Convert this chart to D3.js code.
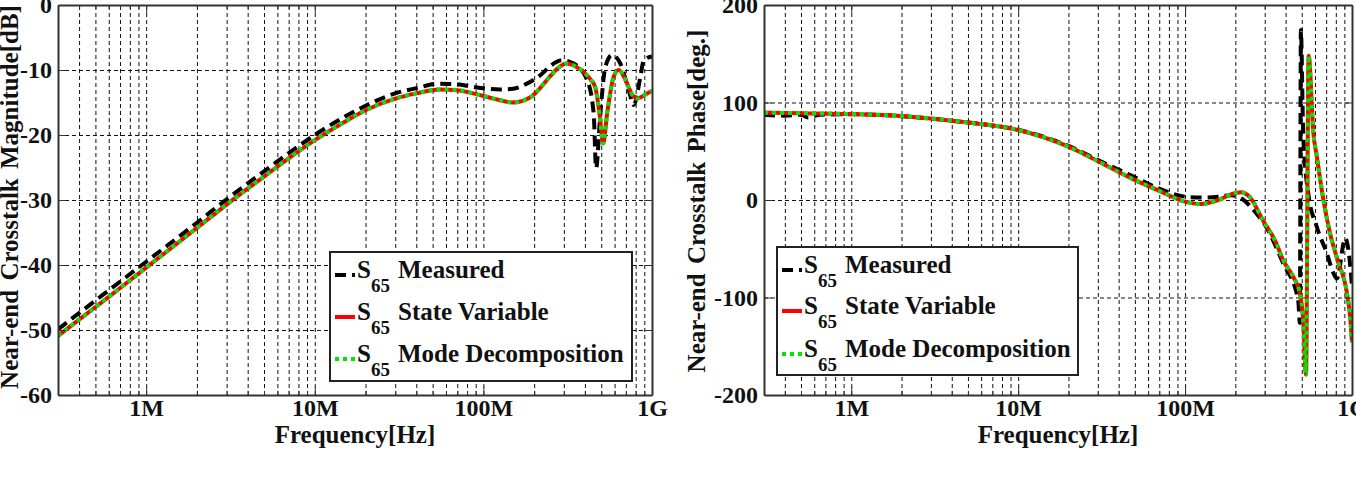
<!DOCTYPE html>
<html><head><meta charset="utf-8">
<script src="https://cdn.jsdelivr.net/npm/d3@7"></script>
<style>html,body{margin:0;padding:0;background:#fff;overflow:hidden}svg{display:block}</style>
</head><body><svg id="c" width="1356" height="487"></svg>
<script>
// ---------------- data ----------------
const freqDomain = [3e5, 1e9];
const xTickValues = [1e6, 1e7, 1e8, 1e9];
const xTickLabels = ["1M", "10M", "100M", "1G"];
const xMinorValues = [4e5,5e5,6e5,7e5,8e5,9e5,
  2e6,3e6,4e6,5e6,6e6,7e6,8e6,9e6,
  2e7,3e7,4e7,5e7,6e7,7e7,8e7,9e7,
  2e8,3e8,4e8,5e8,6e8,7e8,8e8,9e8];
const magTicks = [-60, -50, -40, -30, -20, -10, 0];
const magTickLabels = ["-60", "-50", "-40", "-30", "-20", "-10", "0"];
const phaseTicks = [-200, -100, 0, 100, 200];
const phaseTickLabels = ["-200", "-100", "0", "100", "200"];
const seriesNames = ["Measured", "State Variable", "Mode Decomposition"];
const seriesSymbol = "S";
const seriesIndex = "65";
const magTitle = "Near-end Crosstalk Magnitude[dB]";
const phaseTitle = "Near-end Crosstalk Phase[deg.]";
const xTitle = "Frequency[Hz]";

// magnitude, measured
const magFreqMeasured = [3e5,4e5,6e5,1e6,2e6,3e6,5e6,7e6,1e7,1.5e7,2e7,3e7,4e7,5.5e7,7e7,8.7e7,1.26e8,1.5e8,1.81e8,2.2e8,2.49e8,2.92e8,3.43e8,4.12e8,4.51e8,4.66e8,4.94e8,5.29e8,5.8e8,6.49e8,7.28e8,7.8e8,8.54e8,8.94e8,1e9];
const magMeasured = [-49.9,-47.4,-43.9,-39.5,-33.5,-29.9,-25.6,-22.8,-20.0,-17.2,-15.5,-13.6,-12.8,-12.1,-12.2,-12.6,-13.0,-12.9,-12.1,-10.7,-9.4,-8.5,-9.0,-11.5,-16.7,-25.1,-16.7,-9.5,-7.7,-9.0,-13.1,-15.4,-11.0,-8.5,-7.9];
// magnitude, models
const magFreqModel = [3e5,4e5,6e5,1e6,2e6,3e6,5e6,7e6,1e7,1.5e7,2e7,3e7,4e7,5.5e7,7e7,8.7e7,1.15e8,1.5e8,1.9e8,2.2e8,2.5e8,2.8e8,3.1e8,3.6e8,4.3e8,4.6e8,4.9e8,5.13e8,5.42e8,5.93e8,6.35e8,6.96e8,7.63e8,8.16e8,9.36e8,1e9];
const magStateVariable = [-50.9,-48.4,-44.9,-40.4,-34.3,-30.7,-26.4,-23.6,-20.8,-18.0,-16.2,-14.4,-13.6,-13.0,-13.1,-13.6,-14.4,-15.0,-14.2,-12.6,-10.9,-9.6,-9.0,-9.6,-11.4,-12.6,-17.0,-21.3,-16.7,-11.0,-10.0,-11.5,-13.8,-14.4,-13.6,-13.2];
const magModeDecomposition = [-50.9,-48.4,-44.9,-40.4,-34.3,-30.7,-26.4,-23.6,-20.8,-18.0,-16.2,-14.4,-13.6,-13.0,-13.1,-13.6,-14.4,-15.0,-14.2,-12.6,-10.9,-9.6,-9.0,-9.6,-11.4,-12.6,-17.0,-21.3,-16.7,-11.0,-10.0,-11.5,-13.8,-14.4,-13.6,-13.2];

// phase, measured
const phFreqMeasured = [3e5,4e5,5e5,5.5e5,6.5e5,1e6,2e6,3.2e6,5e6,1e7,2e7,3.05e7,4.77e7,6.8e7,1e8,1.24e8,1.58e8,1.9e8,2.2e8,2.67e8,3.0e8,3.86e8,4.76e8,4.87e8,4.94e8,5.1e8,5.47e8,6.15e8,7.07e8,7.75e8,8.11e8,9.12e8,9.77e8,1e9];
const phMeasured = [87.5,86.5,87.5,84.5,87.5,88.0,86.0,83.0,79.5,72.0,55.5,40.5,25.0,12.5,3.4,2.5,3.4,5.0,1.0,-13.6,-25.0,-64.6,-102.6,-126.0,174.4,68.4,6.8,-27.4,-54.7,-75.2,-80.5,-39.3,-68.4,-89.0];
// phase, models
const phFreqModel = [3e5,5e5,1e6,2e6,3.2e6,5e6,1e7,2e7,3.05e7,4.77e7,6.8e7,1e8,1.24e8,1.58e8,1.9e8,2.16e8,2.43e8,2.92e8,3.52e8,3.86e8,4.44e8,4.87e8,5.1e8,5.3e8,5.5e8,5.87e8,6.15e8,6.74e8,7.39e8,8.19e8,9.33e8,9.75e8,1e9];
const phStateVariable = [89.5,89.0,88.2,86.2,83.1,79.5,71.8,54.7,39.3,22.2,10.3,-1.7,-4.1,0.0,6.0,8.0,3.4,-20.5,-44.4,-61.5,-78.6,-95.7,-123.0,-179.0,148.0,68.4,45.0,0.0,-34.2,-61.5,-95.7,-120.0,-146.0];
const phModeDecomposition = [89.5,89.0,88.2,86.2,83.1,79.5,71.8,54.7,39.3,22.2,10.3,-1.7,-4.1,0.0,6.0,8.0,3.4,-20.5,-44.4,-61.5,-78.6,-95.7,-123.0,-179.0,148.0,68.4,45.0,0.0,-34.2,-61.5,-95.7,-120.0,-146.0];

// ---------------- drawing ----------------
const FONT = "'Liberation Serif','Times New Roman',serif";
const svg = d3.select("#c");
const TOP = 5, BOTTOM = 395;

const styles = [
  {stroke: "#000", width: 4, dash: "11,6"},
  {stroke: "#ff0000", width: 4, dash: null},
  {stroke: "#00e600", width: 4, dash: "4,4"}
];

function panel(o) {
  const g = svg.append("g");
  const x = d3.scaleLog().domain(freqDomain).range([o.x0, o.x1]);
  const y = d3.scaleLinear().domain(o.yDomain).range([BOTTOM, TOP]);
  const H = BOTTOM - TOP;

  // grid
  const grid = g.append("g");
  grid.append("g").attr("transform", `translate(0,${BOTTOM})`)
    .call(d3.axisBottom(x).tickValues(xMinorValues.concat(xTickValues)).tickSize(-H).tickFormat(""));
  grid.append("g").attr("transform", `translate(${o.x0},0)`)
    .call(d3.axisLeft(y).tickValues(o.yTicks).tickSize(-(o.x1 - o.x0)).tickFormat(""));
  grid.selectAll(".domain").remove();
  grid.selectAll("line").attr("stroke", "#111").attr("stroke-width", 1).attr("stroke-dasharray", "4,3");

  // curves
  const clipId = "clip" + o.id;
  svg.append("defs").append("clipPath").attr("id", clipId)
    .append("rect").attr("x", o.x0).attr("y", TOP).attr("width", o.x1 - o.x0).attr("height", H);
  const line = d3.line().x(d => x(d[0])).y(d => y(d[1])).curve(d3.curveMonotoneX);
  const cg = g.append("g").attr("clip-path", `url(#${clipId})`);
  o.series.forEach((s, i) => {
    const pts = s.f.map((f, k) => [f, s.v[k]]);
    cg.append("path").attr("d", line(pts)).attr("fill", "none")
      .attr("stroke", styles[i].stroke).attr("stroke-width", styles[i].width)
      .attr("stroke-dasharray", styles[i].dash).attr("stroke-linejoin", "round");
  });

  // axes (inward ticks)
  const axStyle = sel => {
    sel.selectAll(".domain").attr("stroke", "#333").attr("stroke-width", 2);
    sel.selectAll(".tick line").attr("stroke", "#333").attr("stroke-width", 1);
    sel.selectAll("text").attr("font-family", FONT).attr("font-weight", "bold")
      .attr("font-size", 24).attr("fill", "#111");
  };
  const bx = g.append("g").attr("transform", `translate(0,${BOTTOM})`)
    .call(d3.axisBottom(x).tickValues(xTickValues).tickSizeInner(-8).tickSizeOuter(0).tickPadding(4)
      .tickFormat((d, i) => xTickLabels[i]));
  axStyle(bx);
  const bxm = g.append("g").attr("transform", `translate(0,${BOTTOM})`)
    .call(d3.axisBottom(x).tickValues(xMinorValues).tickSizeInner(-4).tickSizeOuter(0).tickFormat(""));
  axStyle(bxm); bxm.select(".domain").remove();
  const tx = g.append("g").attr("transform", `translate(0,${TOP})`)
    .call(d3.axisTop(x).tickValues(xTickValues).tickSizeInner(-8).tickSizeOuter(0).tickFormat(""));
  axStyle(tx);
  const txm = g.append("g").attr("transform", `translate(0,${TOP})`)
    .call(d3.axisTop(x).tickValues(xMinorValues).tickSizeInner(-4).tickSizeOuter(0).tickFormat(""));
  axStyle(txm); txm.select(".domain").remove();
  const ly = g.append("g").attr("transform", `translate(${o.x0},0)`)
    .call(d3.axisLeft(y).tickValues(o.yTicks).tickSizeInner(-8).tickSizeOuter(0).tickPadding(6)
      .tickFormat((d, i) => o.yLabels[i]));
  axStyle(ly);
  const ry = g.append("g").attr("transform", `translate(${o.x1},0)`)
    .call(d3.axisRight(y).tickValues(o.yTicks).tickSizeInner(-8).tickSizeOuter(0).tickFormat(""));
  axStyle(ry);

  // titles
  g.append("text").attr("x", (o.x0 + o.x1) / 2).attr("y", 443).attr("text-anchor", "middle")
    .attr("font-family", FONT).attr("font-weight", "bold").attr("font-size", 25).attr("fill", "#111")
    .text(xTitle);
  g.append("text").attr("transform", `translate(${o.titleX},${o.titleY}) rotate(-90)`)
    .attr("text-anchor", "middle").attr("font-family", FONT).attr("font-weight", "bold")
    .attr("font-size", 25).attr("fill", "#111").attr("word-spacing", 3).text(o.title);

  // legend
  const lg = g.append("g").attr("transform", `translate(${o.lx},${o.ly})`);
  lg.append("rect").attr("x", 0).attr("y", 0).attr("width", o.lw).attr("height", o.lh)
    .attr("fill", "#fff").attr("stroke", "#222").attr("stroke-width", 2);
  seriesNames.forEach((name, i) => {
    const by = o.rowY[i];
    lg.append("line").attr("x1", 5).attr("x2", 25).attr("y1", by - 3).attr("y2", by - 3)
      .attr("stroke", styles[i].stroke).attr("stroke-width", styles[i].width)
      .attr("stroke-dasharray", styles[i].dash);
    const t = (tx, ty, size, str) => lg.append("text").attr("x", tx).attr("y", ty)
      .attr("font-family", FONT).attr("font-weight", "bold").attr("font-size", size)
      .attr("fill", "#111").text(str);
    t(27, by, 25, seriesSymbol);
    t(41, by + 14, 19, seriesIndex);
    t(68, by, 25, name);
  });
}

panel({
  id: "m", x0: 58, x1: 652, yDomain: [-60, 0], yTicks: magTicks, yLabels: magTickLabels, title: magTitle,
  titleX: 18, titleY: 197,
  series: [
    {f: magFreqMeasured, v: magMeasured},
    {f: magFreqModel, v: magStateVariable},
    {f: magFreqModel, v: magModeDecomposition}
  ],
  lx: 330, ly: 252, lw: 302, lh: 129, rowY: [26, 68, 110]
});
panel({
  id: "p", x0: 764, x1: 1352, yDomain: [-200, 200], yTicks: phaseTicks, yLabels: phaseTickLabels, title: phaseTitle,
  titleX: 705, titleY: 201,
  series: [
    {f: phFreqMeasured, v: phMeasured},
    {f: phFreqModel, v: phStateVariable},
    {f: phFreqModel, v: phModeDecomposition}
  ],
  lx: 777, ly: 247, lw: 301, lh: 128, rowY: [26, 67, 110]
});
</script></body></html>
